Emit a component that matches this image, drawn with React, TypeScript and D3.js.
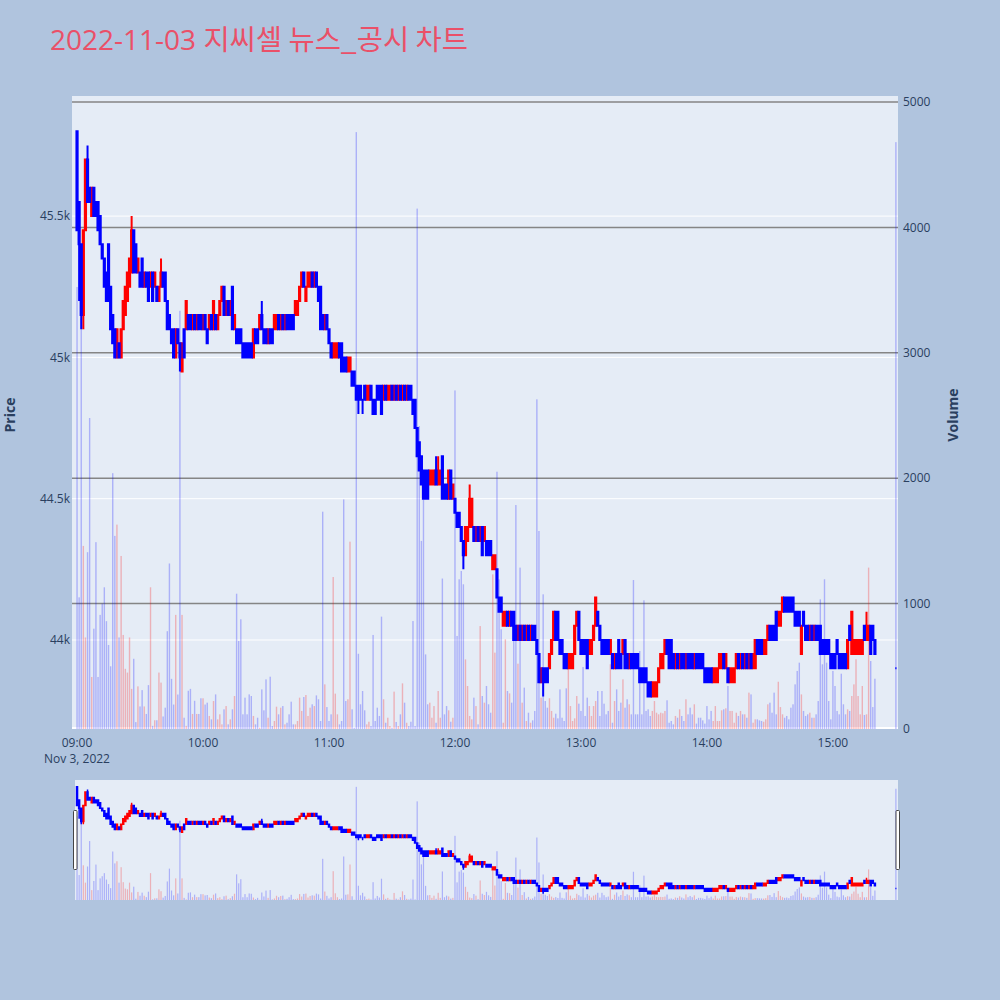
import React from 'react';
import * as d3 from 'd3';

const TITLE_DATE = '2022-11-03 ';
const TITLE_TEXT = '지씨셀 뉴스_공시 차트';

// minutes after 09:00 for each candle (regular session + 15:30 closing auction)
const sessionMinutes: number[] = [...d3.range(0, 381), 390];

const opens: number[] = [
  45800,45550,45400,45150,45450,45700,45600,45500,45600,45550,
  45550,45500,45400,45350,45300,45400,45250,45150,45100,45000,
  45050,45000,45100,45150,45200,45250,45300,45450,45400,45300,
  45300,45350,45250,45300,45300,45250,45300,45250,45250,45200,
  45250,45300,45300,45200,45150,45100,45100,45000,45100,45050,
  44950,45100,45100,45150,45150,45100,45150,45100,45150,45150,
  45100,45150,45100,45100,45150,45100,45150,45100,45150,45200,
  45250,45150,45200,45150,45250,45100,45100,45100,45100,45050,
  45050,45050,45050,45050,45000,45100,45100,45100,45150,45100,
  45100,45050,45100,45100,45100,45100,45150,45100,45150,45100,
  45150,45150,45150,45150,45150,45150,45200,45250,45300,45200,
  45250,45250,45300,45250,45300,45250,45250,45150,45100,45150,
  45100,45050,45000,45000,45000,45050,45050,45000,45000,44950,
  44950,44950,44950,44900,44900,44900,44850,44900,44850,44850,
  44900,44850,44850,44900,44900,44900,44850,44900,44850,44850,
  44900,44850,44900,44850,44900,44850,44900,44850,44900,44900,
  44850,44850,44750,44700,44650,44600,44600,44600,44550,44550,
  44550,44600,44550,44550,44650,44550,44550,44500,44600,44500,
  44500,44450,44450,44400,44350,44300,44350,44400,44400,44400,
  44350,44400,44350,44400,44350,44350,44350,44350,44250,44250,
  44250,44150,44150,44050,44050,44100,44050,44100,44100,44050,
  44000,44050,44000,44050,44000,44050,44000,44050,44050,44000,
  43950,43850,43900,43900,43900,43900,43950,44000,44100,44100,
  44000,44000,43950,43950,43900,43900,43900,43950,44050,44100,
  44000,44000,44000,44000,43950,43950,44000,44050,44100,44050,
  44000,44000,44000,44000,43950,43950,43900,43950,44000,43950,
  43950,44000,43950,43900,43950,43950,43950,43950,43900,43900,
  43900,43900,43850,43850,43800,43800,43800,43850,43900,43900,
  43950,44000,44000,44000,43950,43900,43950,43900,43950,43950,
  43900,43950,43950,43950,43900,43950,43950,43950,43950,43900,
  43900,43900,43900,43850,43850,43850,43900,43900,43950,43900,
  43900,43850,43850,43850,43900,43950,43900,43950,43900,43950,
  43900,43950,43900,43900,44000,44000,44000,43950,43950,44000,
  44050,44050,44050,44100,44050,44050,44100,44150,44150,44150,
  44150,44150,44100,44100,44100,43950,44100,44050,44050,44000,
  44050,44000,44050,44050,44050,44000,44000,44000,44000,43950,
  43950,43950,44000,43950,43950,43950,43950,43900,44050,43950,
  43950,43950,43950,43950,43950,44050,44000,44000,44050,44050,
  44000,43900,
];

const closes: number[] = [
  45450,45400,45150,45450,45700,45550,45550,45600,45500,45500,
  45450,45400,45350,45250,45200,45200,45100,45050,45000,45100,
  45000,45100,45200,45250,45300,45350,45450,45300,45300,45350,
  45250,45250,45300,45250,45200,45300,45200,45300,45200,45250,
  45300,45250,45200,45100,45100,45050,45000,45100,45050,45000,
  45050,45000,45200,45100,45100,45150,45100,45150,45100,45100,
  45150,45100,45050,45150,45100,45200,45100,45150,45200,45250,
  45150,45200,45150,45200,45100,45150,45050,45050,45050,45000,
  45000,45000,45000,45000,45100,45050,45050,45150,45100,45050,
  45050,45100,45050,45050,45150,45150,45100,45150,45100,45150,
  45100,45100,45100,45100,45200,45200,45250,45300,45250,45250,
  45300,45300,45250,45300,45250,45200,45100,45100,45150,45100,
  45050,45000,45050,45050,45050,45000,44950,44950,44950,45000,
  45000,44900,44900,44850,44850,44850,44850,44850,44900,44900,
  44850,44800,44800,44850,44850,44800,44900,44850,44900,44900,
  44850,44900,44850,44900,44850,44900,44850,44900,44850,44850,
  44800,44750,44650,44600,44550,44500,44500,44500,44600,44600,
  44600,44550,44600,44600,44500,44500,44500,44600,44500,44550,
  44450,44400,44400,44350,44300,44400,44400,44500,44500,44350,
  44400,44350,44400,44300,44400,44300,44300,44300,44300,44300,
  44150,44100,44100,44100,44100,44050,44100,44050,44000,44000,
  44050,44000,44050,44000,44050,44000,44050,44000,44000,43950,
  43850,43900,43850,43850,43850,43950,44000,44100,44000,44000,
  43950,43950,43900,43900,43950,43950,43950,44050,44100,44000,
  43950,43950,43950,43900,44000,44000,44050,44150,44050,44000,
  43950,43950,43950,43950,44000,43900,43950,43900,43900,43900,
  44000,43900,43900,43950,43900,43900,43900,43900,43850,43850,
  43850,43850,43800,43800,43850,43850,43850,43900,43950,43950,
  44000,43950,43900,43900,43900,43950,43900,43950,43900,43900,
  43950,43900,43900,43900,43950,43900,43900,43900,43900,43850,
  43850,43850,43850,43900,43900,43900,43950,43950,43900,43950,
  43850,43900,43900,43900,43950,43900,43950,43900,43950,43900,
  43950,43900,43950,44000,43950,43950,43950,44000,44000,44050,
  44000,44000,44000,44000,44100,44100,44150,44100,44100,44100,
  44100,44100,44050,44050,44050,44050,44050,44000,44000,44050,
  44000,44050,44000,44000,43950,43950,43950,43950,43950,43900,
  43900,43900,43950,43900,43900,43900,43900,44000,44000,44100,
  44000,44000,44000,44000,44000,44000,44050,44050,43950,44000,
  43950,43900,
];

// [candle index, price] for wicks that reach beyond the body
const highWicks: [number, number][] = [
  [5, 45750], [26, 45500], [40, 45350], [88, 45200], [171, 44650], [172, 44650], [187, 44550], [376, 44100],
];
const lowWicks: [number, number][] = [
  [1, 45200], [2, 45100], [3, 45100], [49, 44950], [134, 44800], [136, 44800], [184, 44250], [222, 43800],
];

const volumes: number[] = [
  3525,1050,3270,1460,730,1410,2480,415,800,1490,
  415,910,1000,1130,860,670,500,2040,1540,1630,
  730,1380,750,480,450,730,320,560,55,340,
  180,310,180,120,350,1130,25,70,70,450,
  370,100,170,780,1320,400,195,910,275,3335,
  910,90,25,305,320,120,225,120,120,245,
  245,195,210,104,77,223,276,77,117,37,
  157,183,37,77,157,263,1079,702,875,117,
  250,117,276,263,104,37,90,11,316,149,
  396,90,417,24,64,178,117,170,183,37,
  50,117,218,37,37,64,250,144,255,271,
  104,170,197,183,268,237,64,1733,356,175,
  64,117,1212,282,117,37,64,1831,223,237,
  1494,157,10,4760,600,197,303,149,37,58,
  24,750,64,170,104,896,237,50,90,24,
  11,298,56,24,117,364,210,50,24,58,
  861,24,4150,2416,1500,1830,595,197,210,90,
  183,50,303,90,1200,117,183,149,58,90,
  2700,742,1194,1260,1154,555,343,104,77,250,
  183,37,821,263,210,343,197,130,1233,609,
  2052,1193,795,50,715,303,284,210,702,1786,
  521,1287,210,330,64,130,50,69,144,2629,
  1579,250,1074,223,170,245,144,90,122,85,
  316,90,64,324,502,183,64,85,263,202,
  144,494,104,250,183,104,183,223,303,104,
  303,202,117,144,516,50,223,316,144,210,
  396,170,237,197,117,1188,117,117,622,117,
  1026,144,157,104,144,223,130,117,130,125,
  144,229,50,64,37,104,90,157,104,64,
  237,117,170,117,197,43,90,90,69,43,
  183,77,144,64,183,64,64,149,157,165,
  343,144,144,50,130,104,144,117,117,90,
  290,276,50,77,77,69,64,58,77,197,
  210,130,290,117,377,175,117,90,104,77,
  170,197,356,463,529,276,144,104,117,130,
  90,90,117,223,1034,516,1194,529,223,77,
  463,343,144,117,441,197,117,157,144,263,
  356,556,263,117,343,112,117,1287,542,175,
  401,4680,
];

const priceTicks = [44000, 44500, 45000, 45500];
const priceTickLabels = ['44k', '44.5k', '45k', '45.5k'];
const volumeTicks = [0, 1000, 2000, 3000, 4000, 5000];
const timeTicks = [0, 60, 120, 180, 240, 300, 360];
const timeTickLabels = ['09:00', '10:00', '11:00', '12:00', '13:00', '14:00', '15:00'];
const dateLabel = 'Nov 3, 2022';

const UP = '#ff0000';
const DOWN = '#0000ff';
const FONT = "'Open Sans', verdana, arial, sans-serif";
const TICK = '#2a3f5f';

type Candle = { m: number; o: number; c: number; h: number; l: number; v: number; up: boolean };

function candlePath(d: Candle, xs: (n: number) => number, ys: (n: number) => number, hw: number) {
  const cx = xs(d.m);
  const yo = ys(d.o), yc = ys(d.c), yh = ys(d.h), yl = ys(d.l);
  const top = Math.min(yo, yc), bot = Math.max(yo, yc);
  return `M${cx - hw},${top}H${cx + hw}V${bot}H${cx - hw}Z M${cx},${yh}V${top} M${cx},${bot}V${yl}`;
}

export default function App() {
  const plot = { left: 72, right: 898, top: 96, bottom: 729 };
  const slider = { left: 75, right: 898, top: 780, bottom: 900 };

  const x = d3.scaleLinear().domain([-2.4, 391]).range([plot.left, plot.right]);
  const yPrice = d3.scaleLinear().domain([43685, 45925]).range([plot.bottom, plot.top]);
  const yVol = d3.scaleLinear().domain([0, 5048]).range([plot.bottom, plot.top]);
  const ySP = d3.scaleLinear().domain([43685, 45925]).range([slider.bottom, slider.top]);
  const ySV = d3.scaleLinear().domain([0, 5048]).range([slider.bottom, slider.top]);

  const highMap = new Map(highWicks);
  const lowMap = new Map(lowWicks);
  const candles: Candle[] = sessionMinutes.map((m, i) => {
    const o = opens[i], c = closes[i];
    return {
      m, o, c,
      h: highMap.get(i) ?? Math.max(o, c),
      l: lowMap.get(i) ?? Math.min(o, c),
      v: volumes[i],
      up: c > o,
    };
  });

  const upPath = candles.filter(d => d.up).map(d => candlePath(d, x, yPrice, 0.6)).join(' ');
  const downPath = candles.filter(d => !d.up).map(d => candlePath(d, x, yPrice, 0.6)).join(' ');
  const sUpPath = candles.filter(d => d.up).map(d => candlePath(d, x, ySP, 0.5)).join(' ');
  const sDownPath = candles.filter(d => !d.up).map(d => candlePath(d, x, ySP, 0.5)).join(' ');

  return (
    <svg width={1000} height={1000} style={{ position: 'absolute', left: 0, top: 0 }} fontFamily={FONT}>
      <defs>
        <clipPath id="plotclip">
          <rect x={plot.left} y={plot.top} width={plot.right - plot.left} height={plot.bottom - plot.top} />
        </clipPath>
        <clipPath id="sliderclip">
          <rect x={slider.left} y={slider.top} width={slider.right - slider.left} height={slider.bottom - slider.top} />
        </clipPath>
      </defs>
      <rect x={0} y={0} width={1000} height={1000} fill="#b0c4de" />

      {/* title */}
      <text x={50} y={50} fill="#ea5068" fontSize={28}>
        <tspan>{TITLE_DATE}</tspan>
        <tspan fontFamily="'Noto Sans CJK KR', sans-serif" fontSize={28.5}>{TITLE_TEXT}</tspan>
      </text>

      {/* main plot */}
      <rect x={plot.left} y={plot.top} width={plot.right - plot.left} height={plot.bottom - plot.top} fill="#e5ecf6" />
      <g>
        {priceTicks.map(t => (
          <line key={'pg' + t} x1={plot.left} x2={plot.right} y1={yPrice(t)} y2={yPrice(t)} stroke="#ffffff" strokeWidth={1} />
        ))}
        {volumeTicks.filter(t => t > 0).map(t => (
          <line key={'vg' + t} x1={plot.left} x2={plot.right} y1={yVol(t)} y2={yVol(t)} stroke="#858585" strokeWidth={1.5} />
        ))}
        <line x1={plot.left} x2={plot.right} y1={yVol(0) - 1} y2={yVol(0) - 1} stroke="#ffffff" strokeWidth={2} />
      </g>
      <g clipPath="url(#plotclip)">
        <path d={upPath} fill={UP} stroke={UP} strokeWidth={2} />
        <path d={downPath} fill={DOWN} stroke={DOWN} strokeWidth={2} />
        {candles.map((d, i) => (
          <rect key={'v' + i} x={x(d.m) - 0.7} width={1.4} y={yVol(d.v)} height={plot.bottom - yVol(d.v)}
            fill={d.up ? UP : DOWN} opacity={0.25} />
        ))}
      </g>

      {/* axes labels */}
      {priceTicks.map((t, i) => (
        <text key={'pl' + t} x={70} y={yPrice(t)} dy="0.35em" textAnchor="end" fontSize={12} fill={TICK}>{priceTickLabels[i]}</text>
      ))}
      {volumeTicks.map(t => (
        <text key={'vl' + t} x={903} y={yVol(t)} dy="0.35em" textAnchor="start" fontSize={12} fill={TICK}>{t}</text>
      ))}
      {timeTicks.map((t, i) => (
        <text key={'tl' + t} x={x(t)} y={747} textAnchor="middle" fontSize={12} fill={TICK}>{timeTickLabels[i]}</text>
      ))}
      <text x={x(0)} y={763} textAnchor="middle" fontSize={12} fill={TICK}>{dateLabel}</text>
      <text transform="translate(15,415) rotate(-90)" textAnchor="middle" fontSize={14} fontWeight="bold" fill={TICK}>Price</text>
      <text transform="translate(958,415) rotate(-90)" textAnchor="middle" fontSize={14} fontWeight="bold" fill={TICK}>Volume</text>

      {/* range slider */}
      <rect x={slider.left} y={slider.top} width={slider.right - slider.left} height={slider.bottom - slider.top} fill="#e5ecf6" />
      <g clipPath="url(#sliderclip)">
        <path d={sUpPath} fill={UP} stroke={UP} strokeWidth={1.5} />
        <path d={sDownPath} fill={DOWN} stroke={DOWN} strokeWidth={1.5} />
        {candles.map((d, i) => (
          <rect key={'sv' + i} x={x(d.m) - 0.6} width={1.2} y={ySV(d.v)} height={slider.bottom - ySV(d.v)}
            fill={d.up ? UP : DOWN} opacity={0.25} />
        ))}
      </g>
      <rect x={73.5} y={810.5} width={3.5} height={59} rx={1} fill="#ffffff" stroke="#444" strokeWidth={1} />
      <rect x={896} y={810.5} width={3.5} height={59} rx={1} fill="#ffffff" stroke="#444" strokeWidth={1} />
    </svg>
  );
}
